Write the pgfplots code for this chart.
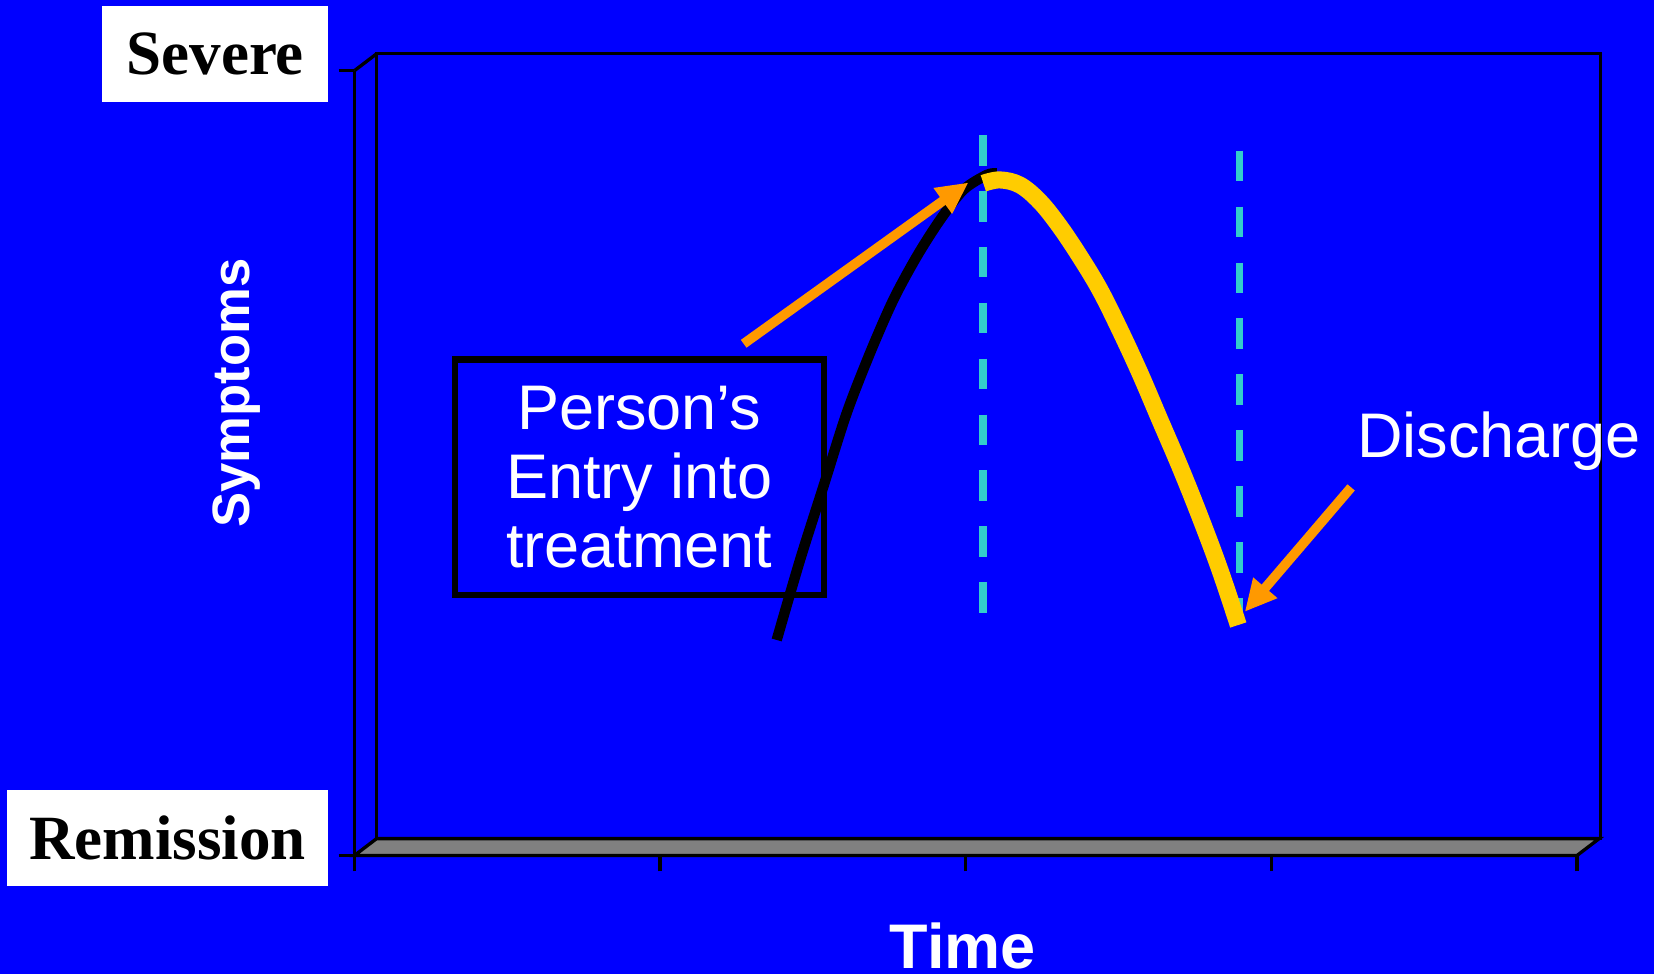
\documentclass[border=0pt]{standalone}
\usepackage{fontspec}
\setmainfont{Liberation Sans}
\newfontfamily\timesfont{Liberation Serif}
\usepackage{pgfplots}
\pgfplotsset{compat=1.18}
\usetikzlibrary{arrows.meta}

\definecolor{bgblue}{RGB}{0,0,255}
\definecolor{dashcyan}{RGB}{51,204,204}
\definecolor{curveyellow}{RGB}{255,204,0}
\definecolor{arroworange}{RGB}{255,153,0}
\definecolor{floorgray}{RGB}{128,128,128}

\begin{document}
\begin{tikzpicture}
\path[use as bounding box] (0,0) rectangle (15.68,9.23);
\fill[bgblue] (0,0) rectangle (15.68,9.23);
\begin{axis}[
    at={(3.36cm,1.12cm)}, anchor=south west,
    scale only axis,
    width=11.59cm, height=7.44cm,
    xmin=0, xmax=4, ymin=0, ymax=1,
    axis lines*=left,
    axis line style={black, line width=0.9pt},
    tick align=outside,
    xtick={0,1,2,3,4}, ytick={0,1},
    xticklabels={,,,,}, yticklabels={,},
    major tick length=0.15cm,
    tick style={black, line width=0.9pt},
    clip=false,
  ]
  % back wall and floor of the 3-D frame
  \fill[floorgray] (axis cs:0,0) -- (axis cs:4,0) -- (axis cs:4.0725,0.0215) -- (axis cs:0.0725,0.0215) -- cycle;
  \draw[black, line width=0.9pt] (axis cs:0,0) -- (axis cs:4,0) -- (axis cs:4.0725,0.0215) -- (axis cs:0.0725,0.0215) -- cycle;
  \draw[black, line width=0.9pt] (axis cs:0.0725,0.0215) -- (axis cs:0.0725,1.0215) -- (axis cs:4.0759,1.0215) -- (axis cs:4.0759,0.0215) -- (axis cs:4.0725,0.0215);
  \draw[black, line width=0.9pt] (axis cs:0,1) -- (axis cs:0.0725,1.0215);

  % entry box
  \node[draw=black, line width=1.7pt, minimum width=3.5cm, minimum height=2.23cm,
        align=center, text=white, font=\fontsize{17}{18.5}\selectfont]
        at (axis cs:0.932,0.482) {Person’s\\Entry into\\treatment};

  % dashed markers
  \addplot[dashcyan, line width=2pt, dash pattern=on 0.29cm off 0.24cm]
    coordinates {(2.057,0.918) (2.057,0.306)};
  \addplot[dashcyan, line width=2pt, dash pattern=on 0.29cm off 0.24cm]
    coordinates {(2.896,0.898) (2.896,0.310)};

  % symptom course before treatment
  \addplot[black, line width=2.8pt, smooth, tension=0.5] coordinates {
    (1.3816,0.2746) (1.4578,0.3764) (1.5341,0.4699) (1.6103,0.5634)
    (1.6866,0.6399) (1.7629,0.7078) (1.8395,0.7630) (1.9158,0.8097)
    (1.9920,0.8480) (2.0683,0.8671) (2.1011,0.8692)};
  % during treatment
  \addplot[curveyellow, line width=4.6pt, smooth, tension=0.6] coordinates {
    (2.0576,0.8565) (2.1122,0.8608) (2.1774,0.8543) (2.2430,0.8330)
    (2.3082,0.8012) (2.3738,0.7630) (2.4393,0.7206) (2.5046,0.6696)
    (2.5702,0.6144) (2.6354,0.5550) (2.7010,0.4954) (2.7665,0.4317)
    (2.8317,0.3638) (2.8918,0.2937)};

  % arrows
  \addplot[arroworange, line width=2.6pt, -{Triangle[length=0.3cm, width=0.28cm]}]
    coordinates {(1.2735,0.652) (2.009,0.8575)};
  \addplot[arroworange, line width=2.6pt, -{Triangle[length=0.3cm, width=0.28cm]}]
    coordinates {(3.261,0.469) (2.913,0.3105)};

  \node[text=white, font=\fontsize{17}{20}\selectfont] at (axis cs:3.745,0.528) {Discharge};

  % labels
  \node[fill=white, minimum width=2.14cm, minimum height=0.91cm, inner sep=0pt,
        font=\timesfont\bfseries\fontsize{17}{20}\selectfont] at (axis cs:-0.4556,1.0208) {Severe};
  \node[fill=white, minimum width=3.04cm, minimum height=0.91cm, inner sep=0pt,
        font=\timesfont\bfseries\fontsize{17}{20}\selectfont] at (axis cs:-0.6109,0.0222) {Remission};
  \node[text=white, rotate=90, font=\bfseries\fontsize{14.2}{17}\selectfont] at (axis cs:-0.385,0.589) {Symptoms};
  \node[text=white, font=\bfseries\fontsize{17}{20}\selectfont] at (axis cs:1.991,-0.1156) {Time};
\end{axis}
\end{tikzpicture}
\end{document}
